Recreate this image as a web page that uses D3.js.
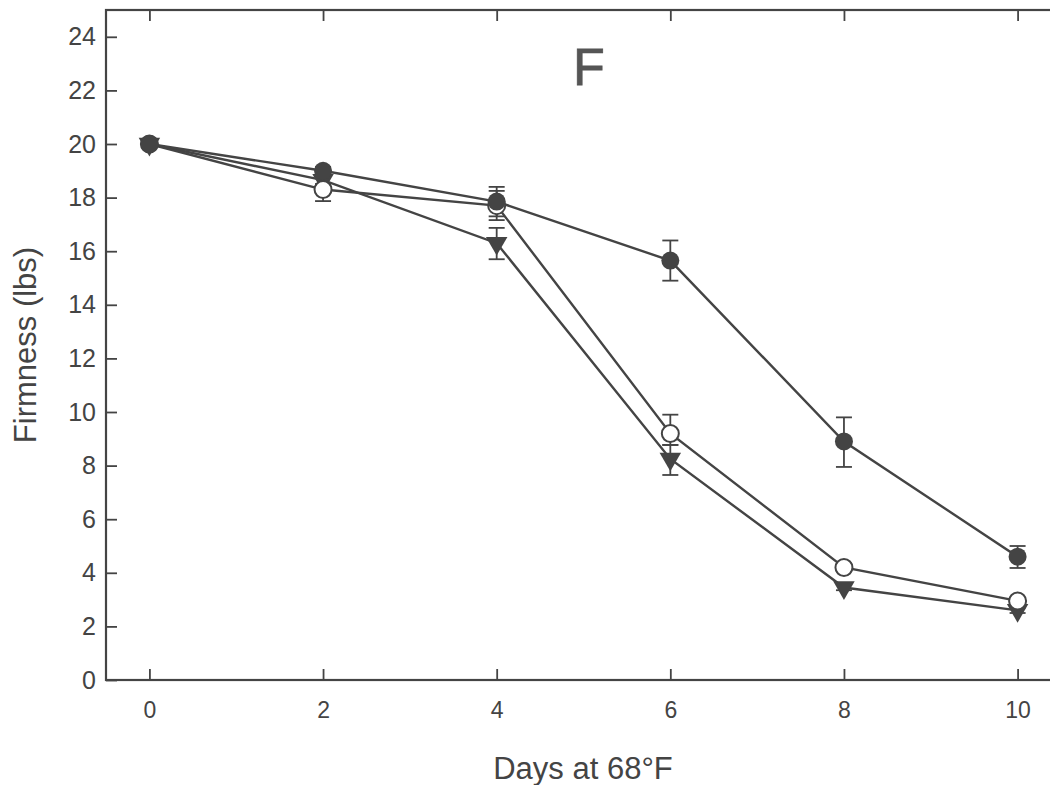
<!DOCTYPE html>
<html>
<head>
<meta charset="utf-8">
<script src="https://cdn.jsdelivr.net/npm/d3@7"></script>
<style>
  html, body { margin: 0; padding: 0; background: #fff; }
  svg { display: block; }
  text { font-family: "Liberation Sans", Arial, sans-serif; fill: #444; }
</style>
</head>
<body>
<svg id="chart" width="1050" height="785"></svg>
<script>
// Days at 68°F
const days = [0, 2, 4, 6, 8, 10];

// Firmness means (lbs) for each treatment
const filledCircle = [20.0, 19.0, 17.85, 15.65, 8.9, 4.6];
const openCircle   = [20.0, 18.3, 17.7, 9.2, 4.2, 2.95];
const triangle     = [20.0, 18.65, 16.3, 8.25, 3.45, 2.6];

// Error bar extents [low, high]
const filledErr = [null, [18.85, 19.15], [17.3, 18.4], [14.9, 16.4], [7.95, 9.8], [4.18, 5.0]];
const openErr   = [null, [17.87, 18.5], [17.16, 18.25], [8.77, 9.9], [4.05, 4.35], [2.85, 3.05]];
const triErr    = [null, [18.5, 18.8], [15.7, 16.87], [7.65, 8.77], [3.35, 3.55], [2.5, 2.7]];

const xTicks = [0, 2, 4, 6, 8, 10];
const yTicks = [0, 2, 4, 6, 8, 10, 12, 14, 16, 18, 20, 22, 24];

const ink = "#444";
const svg = d3.select("#chart");

const x = d3.scaleLinear().domain([-0.5, 10.5]).range([106, 1061]);
const y = d3.scaleLinear().domain([0, 25]).range([680, 10]);

// Frame
svg.append("rect")
  .attr("fill", "none").attr("stroke", ink).attr("stroke-width", 2.2)
  .attr("x", x(-0.5)).attr("y", y(25))
  .attr("width", x(10.5) - x(-0.5)).attr("height", y(0) - y(25));

// Axes with inward ticks
const tickFmt = d3.format("d");
const styleAxis = size => g => {
  g.select(".domain").remove();
  g.selectAll(".tick line").attr("stroke", ink).attr("stroke-width", 1.8);
  g.selectAll(".tick text").attr("fill", ink)
    .attr("font-size", size)
    .attr("font-family", "Liberation Sans, Arial, sans-serif");
};

svg.append("g").attr("transform", `translate(0,${y(0)})`)
  .call(d3.axisBottom(x).tickValues(xTicks).tickFormat(tickFmt).tickSizeInner(-11).tickPadding(22))
  .call(styleAxis(23));
svg.append("g").attr("transform", `translate(0,${y(25)})`)
  .call(d3.axisTop(x).tickValues(xTicks).tickFormat("").tickSizeInner(-11))
  .call(styleAxis(23));
svg.append("g").attr("transform", `translate(${x(-0.5)},0)`)
  .call(d3.axisLeft(y).tickValues(yTicks).tickFormat(tickFmt).tickSizeInner(-11).tickPadding(10))
  .call(styleAxis(25));
svg.append("g").attr("transform", `translate(${x(10.5)},0)`)
  .call(d3.axisRight(y).tickValues(yTicks).tickFormat("").tickSizeInner(-11))
  .call(styleAxis(25));

// Axis titles
svg.append("text")
  .attr("x", 583).attr("y", 779)
  .attr("text-anchor", "middle")
  .attr("font-size", 31)
  .text("Days at 68°F");
svg.append("text")
  .attr("transform", "translate(36,345) rotate(-90)")
  .attr("text-anchor", "middle")
  .attr("font-size", 31)
  .text("Firmness (lbs)");

// Panel letter
svg.append("text")
  .attr("x", 589).attr("y", 85)
  .attr("text-anchor", "middle")
  .attr("font-size", 52)
  .style("fill", "#555")
  .style("stroke", "#555").style("stroke-width", 0.8)
  .text("F");

const line = d3.line().x((d, i) => x(days[i])).y(d => y(d));

const series = [
  { values: triangle, err: triErr, shape: "tri" },
  { values: openCircle, err: openErr, shape: "open" },
  { values: filledCircle, err: filledErr, shape: "filled" }
];

// Connecting lines
series.forEach(s => {
  svg.append("path")
    .datum(s.values)
    .attr("fill", "none")
    .attr("stroke", ink)
    .attr("stroke-width", 2.4)
    .attr("d", line);
});

// Error bars
series.forEach(s => {
  const g = svg.append("g").attr("stroke", ink).attr("stroke-width", 1.8);
  s.err.forEach((e, i) => {
    if (!e) return;
    const cx = x(days[i]);
    g.append("line").attr("x1", cx).attr("x2", cx).attr("y1", y(e[0])).attr("y2", y(e[1]));
    [e[0], e[1]].forEach(v => {
      g.append("line").attr("x1", cx - 8).attr("x2", cx + 8).attr("y1", y(v)).attr("y2", y(v));
    });
  });
});

// Markers
const triPath = d3.symbol().type(d3.symbolTriangle).size(200);
series.forEach(s => {
  const g = svg.append("g");
  s.values.forEach((v, i) => {
    const cx = x(days[i]), cy = y(v);
    if (s.shape === "tri") {
      g.append("path")
        .attr("d", triPath())
        .attr("transform", `translate(${cx},${cy}) rotate(180)`)
        .attr("fill", ink);
    } else if (s.shape === "open") {
      g.append("circle").attr("cx", cx).attr("cy", cy).attr("r", 8.5)
        .attr("fill", "#fff").attr("stroke", ink).attr("stroke-width", 2);
    } else {
      g.append("circle").attr("cx", cx).attr("cy", cy).attr("r", 9)
        .attr("fill", ink);
    }
  });
});
</script>
</body>
</html>
